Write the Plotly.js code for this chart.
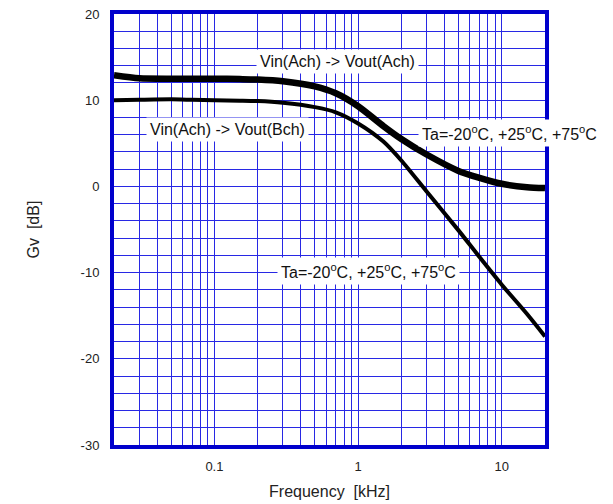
<!DOCTYPE html>
<html>
<head>
<meta charset="utf-8">
<script src="https://cdn.plot.ly/plotly-3.0.1.min.js"></script>
<style>html,body{margin:0;padding:0;background:#fff;}#chart{width:613px;height:504px;}</style>
</head>
<body>
<div id="chart"></div>
<script>
// Frequency (kHz) and gain (dB)
const freqAch = [0.02, 0.03, 0.05, 0.07, 0.1, 0.15, 0.2, 0.3, 0.5, 0.7, 1.0, 1.5, 2.0, 3.0, 5.0, 7.0, 10, 15, 20];
const gainAch = [12.9, 12.55, 12.5, 12.5, 12.5, 12.45, 12.4, 12.2, 11.6, 10.8, 9.3, 7.0, 5.5, 3.7, 1.8, 1.0, 0.3, -0.1, -0.2];
const freqBch = [0.02, 0.03, 0.05, 0.07, 0.1, 0.15, 0.2, 0.3, 0.5, 0.7, 1.0, 1.5, 2.0, 3.0, 5.0, 7.0, 10, 15, 20];
const gainBch = [10.0, 10.05, 10.1, 10.05, 10.0, 9.95, 9.9, 9.7, 9.2, 8.6, 7.3, 5.2, 3.0, -0.6, -5.1, -8.2, -11.4, -14.8, -17.4];

const xGridVals = [0.02,0.03,0.04,0.05,0.06,0.07,0.08,0.09,0.1,0.2,0.3,0.4,0.5,0.6,0.7,0.8,0.9,1,2,3,4,5,6,7,8,9,10,20];
const xLabelVals = [0.1, 1, 10];
const xLabelText = ["0.1", "1", "10"];
const yGridVals = [-30,-28,-26,-24,-22,-20,-18,-16,-14,-12,-10,-8,-6,-4,-2,0,2,4,6,8,10,12,14,16,18,20];
const yLabelVals = [-30,-20,-10,0,10,20];

const xText = xGridVals.map(v => { const i = xLabelVals.indexOf(v); return i >= 0 ? xLabelText[i] : ""; });
const yText = yGridVals.map(v => yLabelVals.includes(v) ? String(v) : "");

const annTexts = [
  "Vin(Ach) -> Vout(Ach)",
  "Vin(Ach) -> Vout(Bch)",
  "Ta=-20<sup>o</sup>C, +25<sup>o</sup>C, +75<sup>o</sup>C",
  "Ta=-20<sup>o</sup>C, +25<sup>o</sup>C, +75<sup>o</sup>C"
];
const annPos = [[0.716, 14.45], [0.124, 6.6], [11.3, 6.25], [1.19, -9.8]];

const font = "Liberation Sans, Arial, sans-serif";
const gridColor = "rgb(40,40,228)";
const borderColor = "rgb(0,0,204)";

const data = [
  {x: freqAch, y: gainAch, mode: "lines", line: {color: "#000", width: 6.5, shape: "spline", smoothing: 0.7}, hoverinfo: "skip"},
  {x: freqBch, y: gainBch, mode: "lines", line: {color: "#000", width: 4, shape: "spline", smoothing: 0.7}, hoverinfo: "skip"}
];

const layout = {
  width: 613, height: 504,
  margin: {l: 114, r: 68, t: 14, b: 59},
  paper_bgcolor: "#fff", plot_bgcolor: "#fff",
  showlegend: false,
  font: {family: font, size: 13, color: "#222"},
  xaxis: {
    type: "log",
    range: [Math.log10(0.02), Math.log10(20)],
    tickmode: "array", tickvals: xGridVals, ticktext: xText,
    showgrid: true, gridcolor: gridColor, gridwidth: 1,
    showline: true, linecolor: borderColor, linewidth: 4, mirror: true,
    ticks: "", ticklabelstandoff: 6,
    zeroline: false,
    tickfont: {family: font, size: 13, color: "#222"},
    title: {text: "Frequency  [kHz]", font: {family: font, size: 16, color: "#222"}, standoff: 14}
  },
  yaxis: {
    range: [-30, 20],
    tickmode: "array", tickvals: yGridVals, ticktext: yText,
    showgrid: true, gridcolor: gridColor, gridwidth: 1,
    showline: true, linecolor: borderColor, linewidth: 4, mirror: true,
    ticks: "", ticklabelstandoff: 8,
    zeroline: false,
    tickfont: {family: font, size: 13, color: "#222"},
    title: {text: "Gv  [dB]", font: {family: font, size: 16, color: "#222"}, standoff: 38}
  },
  annotations: annTexts.map((t, i) => ({
    text: t, x: Math.log10(annPos[i][0]), y: annPos[i][1], xref: "x", yref: "y",
    showarrow: false, bgcolor: "#fff", borderpad: 3,
    font: {family: font, size: 16, color: "#111"}
  }))
};

Plotly.newPlot("chart", data, layout, {staticPlot: true, displayModeBar: false});
</script>
</body>
</html>
